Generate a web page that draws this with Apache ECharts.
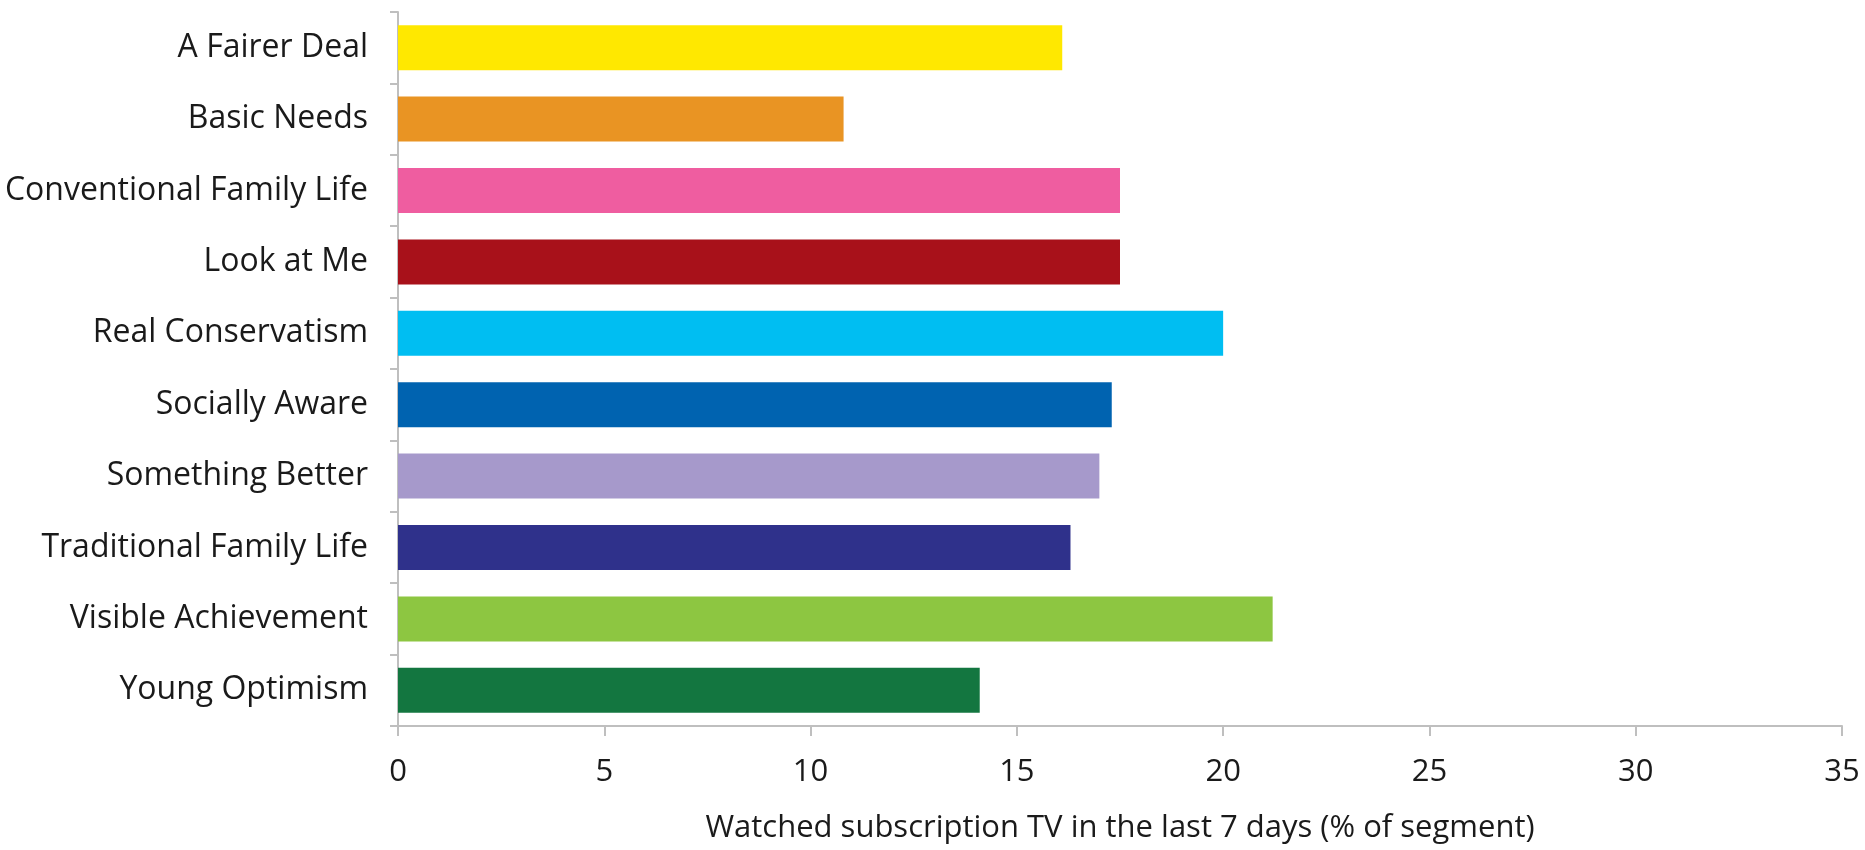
<!DOCTYPE html>
<html>
<head>
<meta charset="utf-8">
<script src="https://cdn.jsdelivr.net/npm/echarts@6/dist/echarts.min.js"></script>
<style>
  html, body { margin: 0; padding: 0; background: #fff; }
  #main { width: 1865px; height: 850px; }
</style>
</head>
<body>
<div id="main"></div>
<script>
const categories = [
    'A Fairer Deal',
    'Basic Needs',
    'Conventional Family Life',
    'Look at Me',
    'Real Conservatism',
    'Socially Aware',
    'Something Better',
    'Traditional Family Life',
    'Visible Achievement',
    'Young Optimism'
];
const values = [16.1, 10.8, 17.5, 17.5, 20.0, 17.3, 17.0, 16.3, 21.2, 14.1];
const barColors = [
    '#FFE800', '#E99423', '#EF5DA0', '#A8111A', '#00BEF2',
    '#0063B0', '#A699CB', '#2F318B', '#8DC641', '#137640'
];
const xTicks = [0, 5, 10, 15, 20, 25, 30, 35];

const chart = echarts.init(document.getElementById('main'));
const font = '"Open Sans", "Noto Sans", sans-serif';

const option = {
    animation: false,
    grid: {
        left: 398,
        right: 23,
        top: 12,
        bottom: 124
    },
    xAxis: {
        type: 'value',
        min: xTicks[0],
        max: xTicks[xTicks.length - 1],
        interval: 5,
        name: 'Watched subscription TV in the last 7 days (% of segment)',
        nameLocation: 'middle',
        nameGap: 87,
        nameTextStyle: { fontFamily: font, fontSize: 31, color: '#1a1a1a' },
        axisLine: { show: true, lineStyle: { color: '#bfbfbf', width: 2 } },
        axisTick: { show: true, length: 10, lineStyle: { color: '#bfbfbf', width: 2 } },
        axisLabel: { fontFamily: font, fontSize: 31, color: '#1a1a1a', margin: 31 },
        splitLine: { show: false }
    },
    yAxis: {
        type: 'category',
        data: categories,
        inverse: true,
        axisLine: { show: true, lineStyle: { color: '#bfbfbf', width: 2 } },
        axisTick: { show: true, length: 8, lineStyle: { color: '#bfbfbf', width: 2 } },
        axisLabel: { fontFamily: font, fontSize: 32, color: '#1a1a1a', margin: 30 }
    },
    series: [{
        type: 'bar',
        barCategoryGap: '37%',
        data: values.map((v, i) => ({ value: v, itemStyle: { color: barColors[i] } }))
    }]
};

chart.setOption(option);
</script>
</body>
</html>
